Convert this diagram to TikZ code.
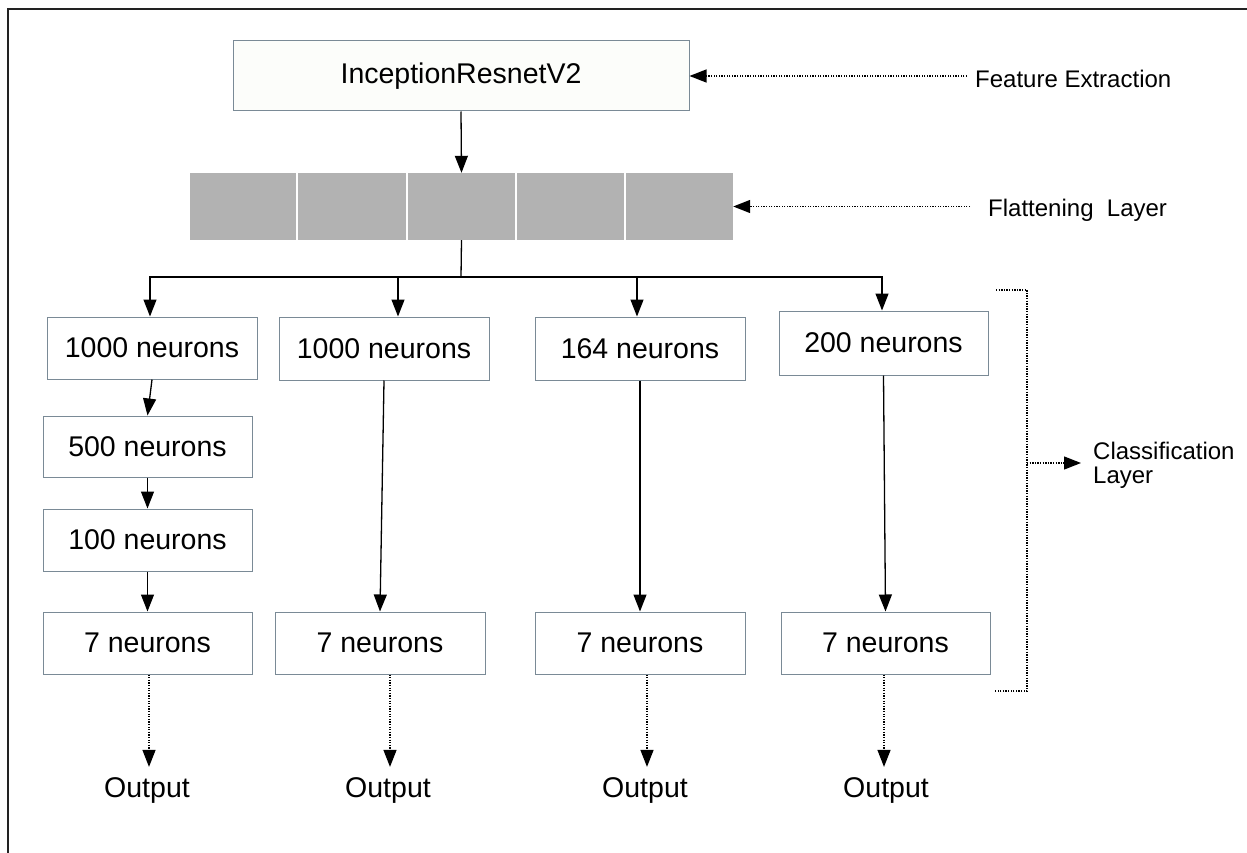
\documentclass[tikz,border=0pt]{standalone}
\usepackage{fontspec}
\setmainfont{Liberation Sans}
\usetikzlibrary{arrows.meta,calc}

\definecolor{boxline}{RGB}{122,138,150}
\definecolor{flatgray}{RGB}{178,178,178}
\definecolor{titlefill}{RGB}{252,253,250}
\definecolor{framecol}{RGB}{34,34,34}

\tikzset{
  box/.style={draw=boxline, line width=1pt, fill=white, minimum width=209pt,
    minimum height=62pt, inner sep=0pt, font=\fontsize{28.5}{30}\selectfont},
  arr/.style={-{Triangle[length=17pt,width=13pt]}, line width=1.3pt},
  darr/.style={arr, dash pattern=on 1.3pt off 1.3pt},
  side/.style={inner sep=0pt, font=\fontsize{24}{24}\selectfont},
  outtext/.style={inner sep=0pt, font=\fontsize{28.5}{30}\selectfont},
}

\begin{document}
\begin{tikzpicture}[x=1pt, y=-1pt]
\useasboundingbox (0,0) rectangle (1247,853);

% outer frame (top and left edges)
\draw[framecol, line width=2pt] (8,853) -- (8,9) -- (1247,9);

% backbone
\node[box, fill=titlefill, minimum width=456pt, minimum height=70pt] (title) at (461,76) {InceptionResnetV2};

% flattening layer: five grey cells
\node[fill=flatgray, minimum width=543pt, minimum height=67pt, inner sep=0pt] (flat) at (461.5,206.5) {};
\foreach \x in {297,407,516,625}
  \draw[white, line width=1.5pt] (\x,173) -- (\x,240);

\draw[arr] (title.south) -- (flat.north);

% dense heads
\node[box, minimum width=210pt] (a1) at (152,348) {1000 neurons};
\node[box, minimum height=61pt] (a2) at (147.5,446.5) {500 neurons};
\node[box] (a3) at (147.5,540) {100 neurons};
\node[box] (a4) at (147.5,643) {7 neurons};

\node[box, minimum width=210pt, minimum height=63pt] (b1) at (384,348.5) {1000 neurons};
\node[box, minimum width=210pt] (b4) at (380,643) {7 neurons};

\node[box, minimum width=210pt, minimum height=63pt] (c1) at (640,348.5) {164 neurons};
\node[box, minimum width=210pt] (c4) at (640,643) {7 neurons};

\node[box, minimum height=64pt] (d1) at (883.5,343) {200 neurons};
\node[box] (d4) at (885.5,643) {7 neurons};

% branching bus
\coordinate (bus) at (461,277);
\draw[line width=1.3pt] (flat.south) -- (bus);
\draw[arr] (bus) -| ([xshift=-2pt]a1.north);
\draw[arr] (bus) -| ([xshift=14pt]b1.north);
\draw[arr] (bus) -| ([xshift=-3pt]c1.north);
\draw[arr] (bus) -| ([xshift=-1.5pt]d1.north);

% vertical chains
\draw[arr] (a1.south) -- (a2.north);
\draw[arr] (a2.south) -- (a3.north);
\draw[arr] (a3.south) -- (a4.north);
\draw[arr] (b1.south) -- (b4.north);
\draw[arr] (c1.south) -- (c4.north);
\draw[arr] (d1.south) -- (d4.north);

% outputs
\node[outtext] (o1) at (147,790) {Output};
\node[outtext] (o2) at (388,790) {Output};
\node[outtext] (o3) at (645,790) {Output};
\node[outtext] (o4) at (886,790) {Output};
\draw[darr] ([xshift=1.5pt]a4.south) -- ([xshift=2pt,yshift=10pt]o1.north);
\draw[darr] ([xshift=10pt]b4.south) -- ([xshift=2pt,yshift=10pt]o2.north);
\draw[darr] ([xshift=7pt]c4.south) -- ([xshift=2pt,yshift=10pt]o3.north);
\draw[darr] ([xshift=-1.5pt]d4.south) -- ([xshift=-2pt,yshift=10pt]o4.north);

% side annotations
\node[side, anchor=base west] (fe) at (975,88) {Feature Extraction};
\draw[darr] ([xshift=-8pt]fe.west |- title.east) -- (title.east);

\node[side, anchor=base west] (fl) at (988,216) {Flattening\ \ Layer};
\draw[darr] ([xshift=-18pt]fl.west |- flat.east) -- (flat.east);

% classification bracket
\coordinate (brt) at (996,290);
\coordinate (brb) at (994,691);
\coordinate (brm) at (1027,463);
\draw[line width=1.3pt, dash pattern=on 1.3pt off 1.3pt] (brt) -- (1027,290) -- (1027,691) -- (brb);
\node[side, anchor=west, align=left] (cl) at (1093,465) {Classification\\Layer};
\draw[darr] (brm) -- ([xshift=-12pt]brm -| cl.west);
\end{tikzpicture}
\end{document}
